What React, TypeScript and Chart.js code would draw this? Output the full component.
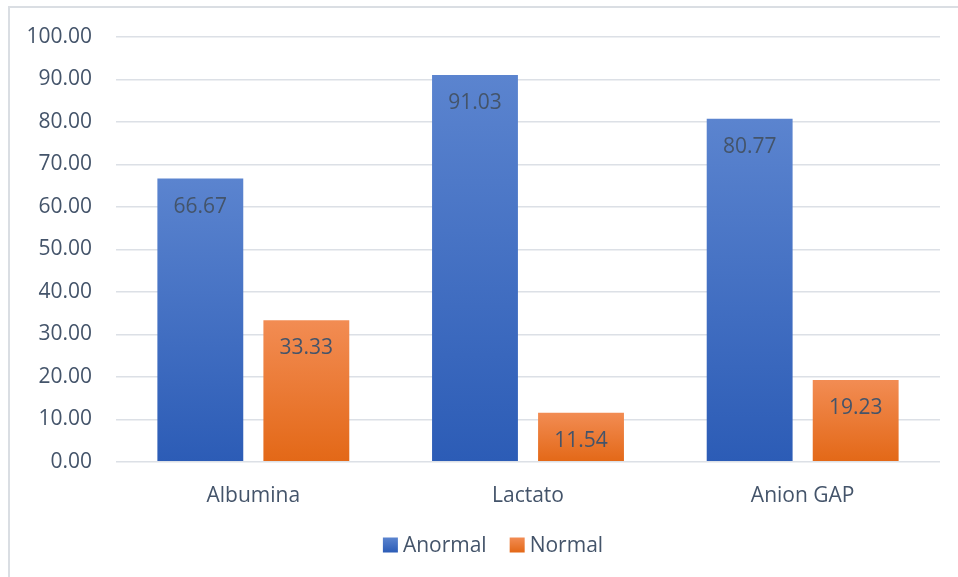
import React, { useEffect, useRef } from "react";
import { Chart, registerables } from "chart.js";

Chart.register(...registerables);

const categories = ["Albumina", "Lactato", "Anion GAP"];
const anormalValues = [66.67, 91.03, 80.77];
const normalValues = [33.33, 11.54, 19.23];
const seriesNames = ["Anormal", "Normal"];

const TEXT = "#44546a";
const FONT = "'Open Sans', 'Liberation Sans', sans-serif";

const blueTop = "#5b84cf";
const blueBottom = "#2c5cb6";
const orangeTop = "#f28c53";
const orangeBottom = "#e36817";
const legendColors = [
  [blueTop, blueBottom],
  [orangeTop, orangeBottom],
];

function barGradient(top: string, bottom: string) {
  return (ctx: any) => {
    const chart = ctx.chart;
    const y = chart.scales?.y;
    if (!y || ctx.parsed == null) return top;
    const v = ctx.parsed.y;
    const y0 = y.getPixelForValue(v);
    const y1 = y.getPixelForValue(0);
    if (!isFinite(y0) || !isFinite(y1) || y0 === y1) return top;
    const g = chart.ctx.createLinearGradient(0, y0, 0, y1);
    g.addColorStop(0, top);
    g.addColorStop(1, bottom);
    return g;
  };
}

const valueLabels = {
  id: "valueLabels",
  afterDatasetsDraw(chart: any) {
    const ctx = chart.ctx;
    ctx.save();
    ctx.font = `21px ${FONT}`;
    ctx.fillStyle = TEXT;
    ctx.textAlign = "center";
    ctx.textBaseline = "middle";
    chart.data.datasets.forEach((ds: any, di: number) => {
      const meta = chart.getDatasetMeta(di);
      meta.data.forEach((el: any, i: number) => {
        const v = ds.data[i];
        ctx.fillText(Number(v).toFixed(2), el.x, el.y + 28);
      });
    });
    ctx.restore();
  },
};

const bottomLegend = {
  id: "bottomLegend",
  afterDraw(chart: any) {
    const ctx = chart.ctx;
    ctx.save();
    ctx.font = `21px ${FONT}`;
    ctx.textBaseline = "middle";
    ctx.textAlign = "left";
    const box = 15;
    const gap = 5;
    const itemGap = 23;
    const widths = seriesNames.map((s) => box + gap + ctx.measureText(s).width);
    const total = widths.reduce((a, b) => a + b, 0) + itemGap * (seriesNames.length - 1);
    let x = 493 - total / 2;
    const cy = 545;
    seriesNames.forEach((name, i) => {
      const g = ctx.createLinearGradient(0, cy - box / 2, 0, cy + box / 2);
      g.addColorStop(0, legendColors[i][0]);
      g.addColorStop(1, legendColors[i][1]);
      ctx.fillStyle = g;
      ctx.fillRect(x, cy - box / 2, box, box);
      ctx.fillStyle = TEXT;
      ctx.fillText(name, x + box + gap, cy + 1);
      x += widths[i] + itemGap;
    });
    ctx.restore();
  },
};

export default function App() {
  const ref = useRef<HTMLCanvasElement | null>(null);

  useEffect(() => {
    if (!ref.current) return;
    const chart = new Chart(ref.current, {
      type: "bar",
      data: {
        labels: categories,
        datasets: [
          {
            label: seriesNames[0],
            data: anormalValues,
            backgroundColor: barGradient(blueTop, blueBottom) as any,
            categoryPercentage: 0.772,
            barPercentage: 0.81,
          },
          {
            label: seriesNames[1],
            data: normalValues,
            backgroundColor: barGradient(orangeTop, orangeBottom) as any,
            categoryPercentage: 0.772,
            barPercentage: 0.81,
          },
        ],
      },
      options: {
        responsive: false,
        animation: false,
        devicePixelRatio: 1,
        layout: { padding: { left: 0, top: 37, right: 18, bottom: 46 } },
        plugins: {
          tooltip: { enabled: false },
          legend: { display: false },
        },
        scales: {
          x: {
            grid: { display: false, drawTicks: false },
            border: { display: false },
            ticks: {
              color: TEXT,
              font: { family: FONT, size: 21 },
              padding: 22,
            },
          },
          y: {
            min: 0,
            max: 100,
            afterFit: (scale: any) => {
              scale.width = 116;
            },
            grid: { color: "#dce0e6", lineWidth: 1.5, drawTicks: false },
            border: { display: false },
            ticks: {
              stepSize: 10,
              color: TEXT,
              font: { family: FONT, size: 21 },
              padding: 24,
              callback: (v: any) => Number(v).toFixed(2),
            },
          },
        },
      },
      plugins: [valueLabels, bottomLegend],
    });
    return () => chart.destroy();
  }, []);

  return (
    <div style={{ position: "absolute", left: 0, top: 0, width: 958, height: 577, overflow: "hidden", background: "#fff" }}>
      <div
        style={{
          position: "absolute",
          left: 8,
          top: 6,
          width: 970,
          height: 600,
          border: "2px solid #dadee3",
          boxSizing: "border-box",
        }}
      />
      <canvas
        ref={ref}
        width={958}
        height={577}
        style={{ position: "absolute", left: 0, top: 0, width: 958, height: 577 }}
      />
    </div>
  );
}
